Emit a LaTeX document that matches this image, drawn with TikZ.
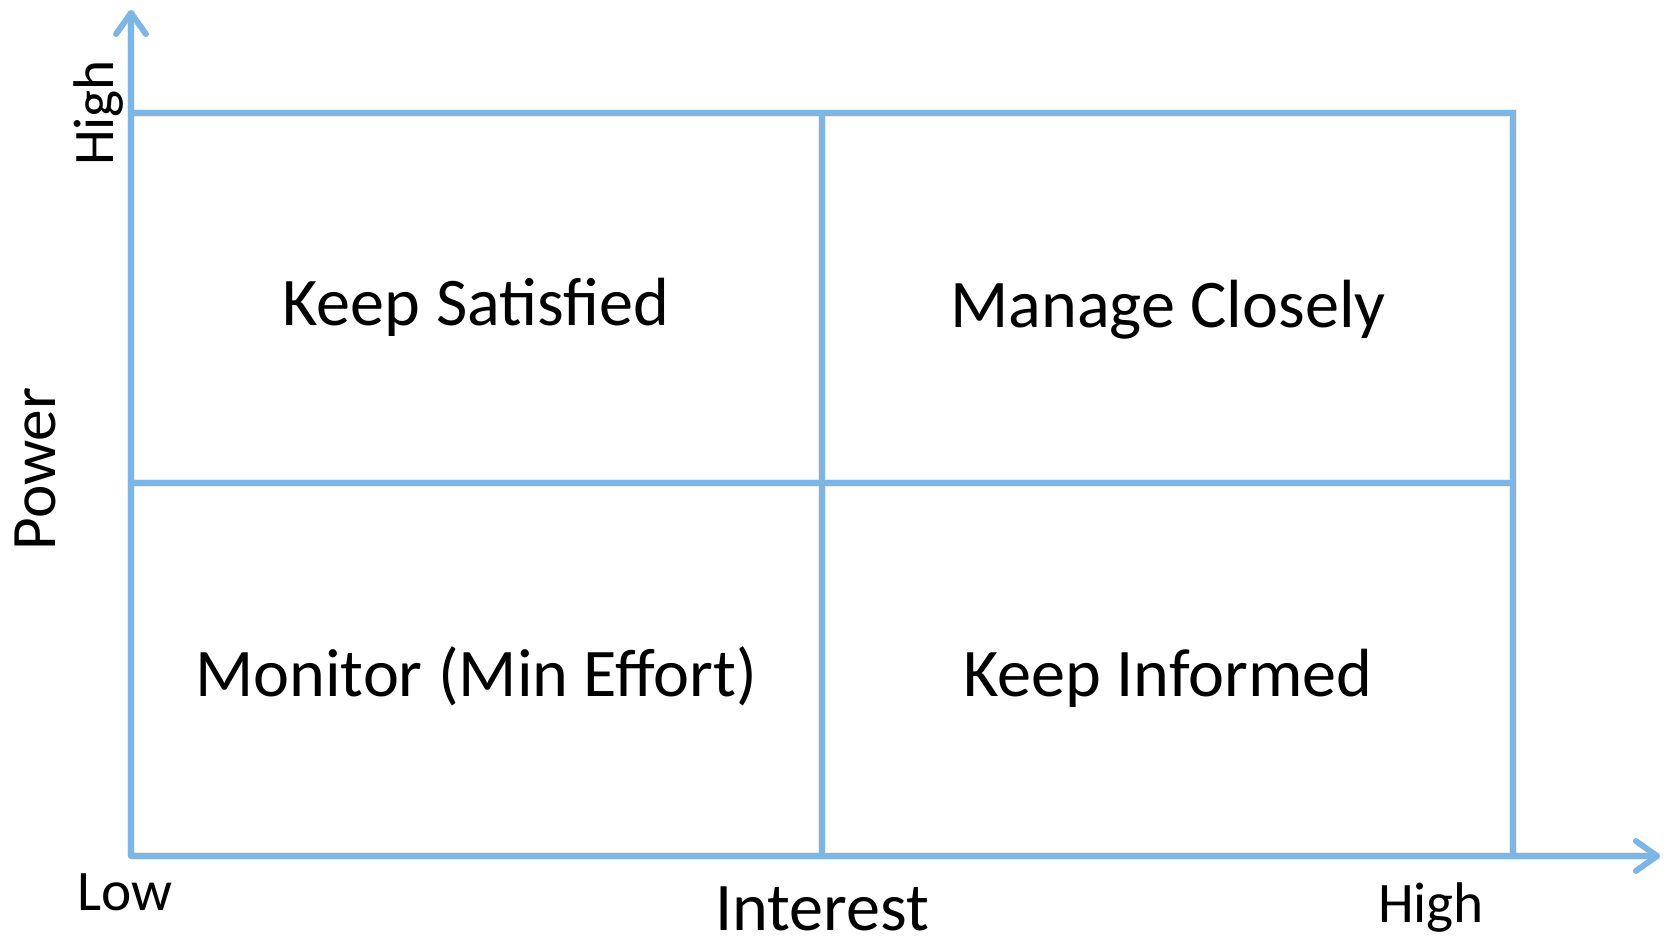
\documentclass[tikz,border=0pt]{standalone}
\usepackage{fontspec}
\setmainfont{Carlito}
\usetikzlibrary{arrows.meta}
\definecolor{gridblue}{RGB}{125,181,228}

\begin{document}
\begin{tikzpicture}[
      gridline/.style={draw=gridblue, line width=1.7pt},
      axisline/.style={gridline, line cap=round, -{Straight Barb[length=6pt, width=8.5pt, round]}},
      dropline/.style={draw=black!12, line width=2.4pt, opacity=0.6},
      cell/.style={anchor=base, inner sep=0pt, font=\fontsize{19.4}{23}\selectfont},
      tick/.style={anchor=base, inner sep=0pt, font=\fontsize{16.3}{20}\selectfont}
    ]
      \useasboundingbox (0,0) rectangle (16.65,9.37);

      % Corners of the grid
      \coordinate (o) at (1.31,0.81);
      \coordinate (ytip) at (1.31,9.27);
      \coordinate (xtip) at (16.60,0.81);
      \coordinate (tl) at (1.31,8.24);
      \coordinate (tm) at (8.22,8.24);
      \coordinate (tr) at (15.13,8.24);
      \coordinate (ml) at (1.31,4.54);
      \coordinate (mr) at (15.13,4.54);
      \coordinate (bm) at (8.22,0.81);
      \coordinate (br) at (15.13,0.81);

      % Soft shadow under the lines
      \begin{scope}[xshift=0.6pt, yshift=-1.2pt]
        \draw[dropline] (tl) -- (tr) -- (br);
        \draw[dropline] (ml) -- (mr);
        \draw[dropline] (tm) -- (bm);
        \draw[dropline] (o) -- (xtip);
        \draw[dropline] (o) -- (ytip);
      \end{scope}

      % Grid
      \draw[gridline] (tl) -- (tr) -- (br);
      \draw[gridline] (ml) -- (mr);
      \draw[gridline] (tm) -- (bm);

      % Axes
      \draw[axisline] (o) -- (xtip);
      \draw[axisline] (o) -- (ytip);

      % Quadrants
      \node[cell] (keepsat) at (4.76,6.12) {Keep Satisfied};
      \node[cell] (manage) at (11.68,6.10) {Manage Closely};
      \node[cell] (monitor) at (4.76,2.41) {Monitor (Min Effort)};
      \node[cell] (keepinf) at (11.68,2.41) {Keep Informed};

      % Axis labels
      \node[cell] (interest) at (8.22,0.07) {Interest};
      \node[tick, rotate=90, font=\fontsize{18}{22}\selectfont] (power) at (0.55,4.68) {Power};
      \node[tick] (lowx) at (1.25,0.27) {Low};
      \node[tick] (highx) at (14.31,0.15) {High};
      \node[tick, rotate=90] (highy) at (1.14,8.24) {High};
    \end{tikzpicture}
\end{document}
